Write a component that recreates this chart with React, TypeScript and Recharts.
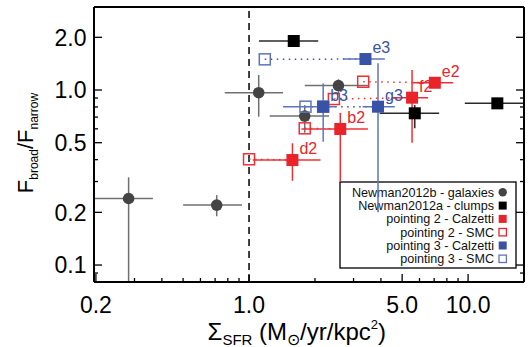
import React from 'react';
import { ScatterChart, Scatter, XAxis, YAxis, ErrorBar, ReferenceLine } from 'recharts';

// ---------- data ----------
const galX = [0.282, 0.712, 1.107, 1.796, 2.56];
const galY = [0.24, 0.22, 0.965, 0.71, 1.06];
const galXLo = [0.15, 0.5, 0.775, 1.243, 1.796];
const galXHi = [0.364, 0.929, 1.43, 2.32, 3.49];
const galYLo = [0.05, 0.19, 0.704, 0.57, 0.957];
const galYHi = [0.317, 0.251, 1.218, 0.82, 1.15];

const clX = [1.6, 5.71, 13.6];
const clY = [1.905, 0.736, 0.839];
const clXLo = [1.11, 3.95, 9.66];
const clXHi = [2.07, 7.38, 30];
const clYLo = [1.84, 0.604, 0.78];
const clYHi = [1.97, 0.821, 0.87];

const p2Names = ['d2', 'b2', 'f2', 'e2'];
const p2CalX = [1.578, 2.61, 5.55, 7.05];
const p2CalY = [0.398, 0.599, 0.904, 1.1];
const p2CalXLo = [1.04, 1.735, 4.47, 5.6];
const p2CalXHi = [2.12, 3.49, 6.57, 8.54];
const p2CalYLo = [0.303, 0.3, 0.5, 1.07];
const p2CalYHi = [0.496, 0.74, 1.3, 1.13];
const p2SmcX = [1.0, 1.796, 2.44, 3.32];
const p2SmcY = [0.402, 0.604, 0.888, 1.115];

const p3Names = ['e3', 'b3', 'g3'];
const p3CalX = [3.4, 2.18, 3.88];
const p3CalY = [1.503, 0.803, 0.803];
const p3CalXLo = [2.69, 1.43, 3.3];
const p3CalXHi = [4.17, 2.5, 4.63];
const p3CalYLo = [1.47, 0.506, 0.2];
const p3CalYHi = [1.54, 1.09, 1.42];
const p3SmcX = [1.18, 1.81, 2.18];
const p3SmcY = [1.497, 0.803, 0.803];

const xMajor = [0.2, 1, 5, 10];
const xMinor = [0.3, 0.4, 0.5, 0.6, 0.7, 0.8, 0.9, 2, 3, 4, 6, 7, 8, 9];
const yMajor = [0.1, 0.2, 0.5, 1, 2];
const yMinor = [0.09, 0.3, 0.4, 0.6, 0.7, 0.8, 0.9];

const legendLabels = [
  'Newman2012b - galaxies',
  'Newman2012a - clumps',
  'pointing 2 - Calzetti',
  'pointing 2 - SMC',
  'pointing 3 - Calzetti',
  'pointing 3 - SMC',
];

// ---------- styles ----------
const FONT = '"Liberation Sans", Arial, Helvetica, sans-serif';
const RED = '#e8242a';
const RED_ERR = '#ee3035';
const BLUE = '#3853a6';
const BLUE_ERR = '#5f75bb';
const GRAY = '#444444';
const GRAY_ERR = '#707070';

const X_DOMAIN = [0.196, 18];
const Y_DOMAIN = [0.08, 2.98];

type Row = { x: number; y: number; ex?: number[]; ey?: number[]; name: string };

// error bars are cut at the plot frame (the frame clips them in the reference)
const clampX = (v: number) => Math.min(Math.max(v, X_DOMAIN[0]), X_DOMAIN[1]);
const clampY = (v: number) => Math.min(Math.max(v, Y_DOMAIN[0]), Y_DOMAIN[1]);

const withErr = (names: string[], xs: number[], ys: number[], xl: number[], xh: number[], yl: number[], yh: number[]): Row[] =>
  xs.map((x, i) => ({
    x,
    y: ys[i],
    ex: [x - clampX(xl[i]), clampX(xh[i]) - x],
    ey: [ys[i] - clampY(yl[i]), clampY(yh[i]) - ys[i]],
    name: names[i] || '',
  }));

const plain = (names: string[], xs: number[], ys: number[]): Row[] => xs.map((x, i) => ({ x, y: ys[i], name: names[i] || '' }));

const galaxies = withErr([], galX, galY, galXLo, galXHi, galYLo, galYHi);
const clumps = withErr([], clX, clY, clXLo, clXHi, clYLo, clYHi);
const p2Cal = withErr(p2Names, p2CalX, p2CalY, p2CalXLo, p2CalXHi, p2CalYLo, p2CalYHi);
const p3Cal = withErr(p3Names, p3CalX, p3CalY, p3CalXLo, p3CalXHi, p3CalYLo, p3CalYHi);
const p2Smc = plain(p2Names, p2SmcX, p2SmcY);
const p3Smc = plain(p3Names, p3SmcX, p3SmcY);

const allX = [...xMajor, ...xMinor].sort((a, b) => a - b);
const allY = [...yMajor, ...yMinor].sort((a, b) => a - b);

// ---------- shapes ----------
const circleShape = (color: string) => (p: any) => <circle cx={p.cx} cy={p.cy} r={5.8} fill={color} />;
const filledSquare = (color: string, labelColor?: string) => (p: any) => (
  <g>
    <rect x={p.cx - 6} y={p.cy - 6} width={12} height={12} fill={color} />
    {labelColor && p.payload && p.payload.name ? (
      <text x={p.cx + 7} y={p.cy - 6} fill={labelColor} fontSize={16} fontFamily={FONT}>
        {p.payload.name}
      </text>
    ) : null}
  </g>
);
const openSquare = (color: string) => (p: any) => (
  <rect x={p.cx - 5.5} y={p.cy - 5.5} width={11} height={11} fill="none" stroke={color} strokeWidth={1.5} />
);

// ---------- ticks ----------
const fmt = (v: number) => v.toFixed(1);
const XTickBottom = (p: any) => {
  const v = p.payload.value;
  const major = xMajor.includes(v);
  return (
    <g>
      <line x1={p.x} x2={p.x} y1={p.y} y2={p.y - (major ? 8 : 4)} stroke="#000" strokeWidth={1.3} />
      {major ? (
        <text x={p.x} y={p.y + 31} textAnchor="middle" fontSize={23} fontFamily={FONT} fill="#000">
          {fmt(v)}
        </text>
      ) : null}
    </g>
  );
};
const XTickTop = (p: any) => {
  const major = xMajor.includes(p.payload.value);
  return <line x1={p.x} x2={p.x} y1={p.y} y2={p.y + (major ? 8 : 4)} stroke="#000" strokeWidth={1.3} />;
};
const YTickLeft = (p: any) => {
  const v = p.payload.value;
  const major = yMajor.includes(v);
  return (
    <g>
      <line x1={p.x} x2={p.x + (major ? 8 : 4)} y1={p.y} y2={p.y} stroke="#000" strokeWidth={1.3} />
      {major ? (
        <text x={p.x - 7.5} y={p.y + 8.2} textAnchor="end" fontSize={23} fontFamily={FONT} fill="#000">
          {fmt(v)}
        </text>
      ) : null}
    </g>
  );
};
const YTickRight = (p: any) => {
  const major = yMajor.includes(p.payload.value);
  return <line x1={p.x} x2={p.x - (major ? 8 : 4)} y1={p.y} y2={p.y} stroke="#000" strokeWidth={1.3} />;
};

// ---------- legend ----------
const legendMarker = (i: number, cx: number, cy: number) => {
  switch (i) {
    case 0:
      return <circle cx={cx} cy={cy} r={4.2} fill={GRAY} />;
    case 1:
      return <rect x={cx - 4} y={cy - 4} width={8} height={8} fill="#000" />;
    case 2:
      return <rect x={cx - 4} y={cy - 4} width={8} height={8} fill={RED} />;
    case 3:
      return <rect x={cx - 3.7} y={cy - 3.7} width={7.4} height={7.4} fill="none" stroke={RED} strokeWidth={1.3} />;
    case 4:
      return <rect x={cx - 4} y={cy - 4} width={8} height={8} fill={BLUE} />;
    default:
      return <rect x={cx - 3.7} y={cy - 3.7} width={7.4} height={7.4} fill="none" stroke={BLUE_ERR} strokeWidth={1.3} />;
  }
};

const Legend = () => (
  <svg width={530} height={347} style={{ position: 'absolute', left: 0, top: 0 }}>
    <rect x={340} y={182} width={176} height={86} fill="none" stroke="#000" strokeWidth={1.3} />
    {legendLabels.map((t, i) => {
      const cy = 192.3 + i * 13.3;
      return (
        <g key={t}>
          <text x={494} y={cy + 4.4} textAnchor="end" fontSize={12.6} fontFamily={FONT} fill="#111">
            {t}
          </text>
          {legendMarker(i, 502.7, cy)}
        </g>
      );
    })}
  </svg>
);

const Titles = () => (
  <svg width={530} height={347} style={{ position: 'absolute', left: 0, top: 0, pointerEvents: 'none' }}>
    <text x={386} y={340} textAnchor="end" fontSize={24} fontFamily={FONT} fill="#000">
      Σ<tspan fontSize={15} dy={5}>SFR</tspan>
      <tspan fontSize={24} dy={-5}> (M</tspan>
      <tspan fontSize={16} dy={5}>⊙</tspan>
      <tspan fontSize={24} dy={-5}>/yr/kpc</tspan>
      <tspan fontSize={13} dy={-11}>2</tspan>
      <tspan fontSize={24} dy={11}>)</tspan>
    </text>
    <text transform="translate(33,143) rotate(-90)" textAnchor="middle" fontSize={22} fontFamily={FONT} fill="#000">
      F<tspan fontSize={12} dy={5}>broad</tspan>
      <tspan fontSize={22} dy={-5}>/F</tspan>
      <tspan fontSize={12} dy={5}>narrow</tspan>
    </text>
  </svg>
);

const segs = (smc: Row[], cal: Row[]) => smc.map((s, i) => [{ x: s.x, y: s.y }, { x: cal[i].x, y: cal[i].y }]);

export default function App() {
  return (
    <div style={{ position: 'absolute', left: 0, top: 0, width: 530, height: 347, background: '#fff' }}>
      <Legend />
      <div style={{ position: 'absolute', left: 0, top: 0 }}>
        <ScatterChart width={530} height={347} margin={{ top: 6, right: 5, bottom: 64, left: 93 }}>
          <XAxis
            xAxisId={0}
            dataKey="x"
            type="number"
            scale="log"
            domain={X_DOMAIN}
            allowDataOverflow
            ticks={allX}
            interval={0}
            height={1}
            tickSize={0}
            tickMargin={0}
            tickLine={false}
            axisLine={{ stroke: '#000', strokeWidth: 2 }}
            tick={<XTickBottom />}
          />
          <XAxis
            xAxisId="top"
            orientation="top"
            type="number"
            scale="log"
            domain={X_DOMAIN}
            allowDataOverflow
            ticks={allX}
            interval={0}
            height={1}
            tickSize={0}
            tickMargin={0}
            tickLine={false}
            axisLine={{ stroke: '#000', strokeWidth: 2 }}
            tick={<XTickTop />}
          />
          <YAxis
            yAxisId={0}
            dataKey="y"
            type="number"
            scale="log"
            domain={Y_DOMAIN}
            allowDataOverflow
            ticks={allY}
            interval={0}
            width={1}
            tickSize={0}
            tickMargin={0}
            tickLine={false}
            axisLine={{ stroke: '#000', strokeWidth: 2 }}
            tick={<YTickLeft />}
          />
          <YAxis
            yAxisId="right"
            orientation="right"
            type="number"
            scale="log"
            domain={Y_DOMAIN}
            allowDataOverflow
            ticks={allY}
            interval={0}
            width={1}
            tickSize={0}
            tickMargin={0}
            tickLine={false}
            axisLine={{ stroke: '#000', strokeWidth: 2 }}
            tick={<YTickRight />}
          />
          <ReferenceLine x={1} stroke="#000" strokeWidth={1.5} strokeDasharray="7 5" />
          {segs(p3Smc, p3Cal).map((s, i) => (
            <ReferenceLine key={'b' + i} segment={s} stroke={BLUE} strokeWidth={1.5} strokeDasharray="1.5 4.5" />
          ))}
          {segs(p2Smc, p2Cal).map((s, i) => (
            <ReferenceLine key={'r' + i} segment={s} stroke={RED_ERR} strokeWidth={1.5} strokeDasharray="1.5 4.5" />
          ))}
          <Scatter data={galaxies} isAnimationActive={false} shape={circleShape(GRAY)}>
            <ErrorBar dataKey="ex" direction="x" width={0} stroke={GRAY_ERR} strokeWidth={1.5} />
            <ErrorBar dataKey="ey" direction="y" width={0} stroke={GRAY_ERR} strokeWidth={1.5} />
          </Scatter>
          <Scatter data={clumps} isAnimationActive={false} shape={filledSquare('#000')}>
            <ErrorBar dataKey="ex" direction="x" width={0} stroke="#2a2a2a" strokeWidth={1.5} />
            <ErrorBar dataKey="ey" direction="y" width={0} stroke="#2a2a2a" strokeWidth={1.5} />
          </Scatter>
          <Scatter data={p2Smc} isAnimationActive={false} shape={openSquare(RED_ERR)} />
          <Scatter data={p3Smc} isAnimationActive={false} shape={openSquare(BLUE_ERR)} />
          <Scatter data={p2Cal} isAnimationActive={false} shape={filledSquare(RED, RED)}>
            <ErrorBar dataKey="ex" direction="x" width={0} stroke={RED_ERR} strokeWidth={1.5} />
            <ErrorBar dataKey="ey" direction="y" width={0} stroke={RED_ERR} strokeWidth={1.5} />
          </Scatter>
          <Scatter data={p3Cal} isAnimationActive={false} shape={filledSquare(BLUE, BLUE)}>
            <ErrorBar dataKey="ex" direction="x" width={0} stroke={BLUE_ERR} strokeWidth={1.5} />
            <ErrorBar dataKey="ey" direction="y" width={0} stroke={BLUE_ERR} strokeWidth={1.5} />
          </Scatter>
        </ScatterChart>
      </div>
      <Titles />
    </div>
  );
}
